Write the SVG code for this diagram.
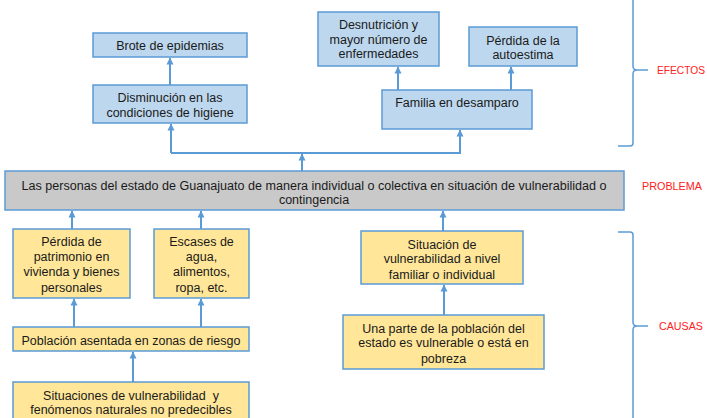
<svg xmlns="http://www.w3.org/2000/svg" width="707" height="418" viewBox="0 0 707 418">
<style>
.b{fill:#BDD7EE;stroke:#5B9BD5;stroke-width:1.5}
.y{fill:#FFE699;stroke:#5B9BD5;stroke-width:1.5}
.g{fill:#C9C9C9;stroke:#5B9BD5;stroke-width:1.5}
text{font-family:"Liberation Sans",Arial,sans-serif;font-size:12.5px;fill:#1a1a1a;text-anchor:middle}
.lab{fill:#FF2020;font-size:10.5px;text-anchor:start}
.c{fill:none;stroke:#5B9BD5;stroke-width:2}
.br{fill:none;stroke:#5B9BD5;stroke-width:1.5}
</style>
<defs>
<marker id="up" markerUnits="userSpaceOnUse" markerWidth="8" markerHeight="8" viewBox="0 0 8 8" refX="4" refY="0.5" orient="0">
<path d="M0.5,7 L4,0 L7.5,7 Z" fill="#5B9BD5"/>
</marker>
</defs>
<g id="connectors">
<path class="c" d="M170,85 V58" marker-end="url(#up)"/>
<path class="c" d="M171,153 H460 V130" marker-end="url(#up)"/>
<path class="c" d="M171,153 V124" marker-end="url(#up)"/>
<path class="c" d="M302,171 V154" marker-end="url(#up)"/>
<path class="c" d="M398,90 V67" marker-end="url(#up)"/>
<path class="c" d="M511,90 V67" marker-end="url(#up)"/>
<path class="c" d="M72,229 V211" marker-end="url(#up)"/>
<path class="c" d="M201,229 V211" marker-end="url(#up)"/>
<path class="c" d="M443,231 V211" marker-end="url(#up)"/>
<path class="c" d="M74,327 V299" marker-end="url(#up)"/>
<path class="c" d="M201,327 V299" marker-end="url(#up)"/>
<path class="c" d="M133,382 V352" marker-end="url(#up)"/>
<path class="c" d="M444,315 V285" marker-end="url(#up)"/>
</g>
<g id="brace-efectos">
<path class="br" d="M633,0 V66 Q633,70 637,70 H648 M637,70 Q633,70 633,74 V143 Q633,146 630,146 H618"/>
<text class="lab" x="657" y="74" textLength="48" lengthAdjust="spacingAndGlyphs">EFECTOS</text>
</g>
<g id="brace-causas">
<path class="br" d="M618,232 H630 Q633,232 633,235 V322 Q633,326 637,326 H648 M637,326 Q633,326 633,330 V418"/>
<text class="lab" x="659" y="330" textLength="44" lengthAdjust="spacingAndGlyphs">CAUSAS</text>
</g>
<g id="n-brote">
<rect class="b" x="93" y="33" width="154" height="24"/>
<text x="170" y="50">Brote de epidemias</text>
</g>
<g id="n-disminucion">
<rect class="b" x="93" y="85" width="154" height="38"/>
<text x="170" y="102">Disminución en las</text>
<text x="170" y="116.5">condiciones de higiene</text>
</g>
<g id="n-desnutricion">
<rect class="b" x="318" y="12" width="121" height="54"/>
<text x="378.5" y="28.5">Desnutrición y</text>
<text x="378.5" y="43.5">mayor número de</text>
<text x="378.5" y="58">enfermedades</text>
</g>
<g id="n-autoestima">
<rect class="b" x="469" y="27" width="108" height="39"/>
<text x="523" y="44.5">Pérdida de la</text>
<text x="523" y="59">autoestima</text>
</g>
<g id="n-familia">
<rect class="b" x="382" y="90" width="150" height="39"/>
<text x="457" y="107">Familia en desamparo</text>
</g>
<g id="n-problema">
<rect class="g" x="5" y="171" width="619" height="39"/>
<text x="314" y="189.5" textLength="585" lengthAdjust="spacingAndGlyphs">Las personas del estado de Guanajuato de manera individual o colectiva en situación de vulnerabilidad o</text>
<text x="314" y="203.5">contingencia</text>
<text class="lab" x="642" y="190" textLength="60" lengthAdjust="spacingAndGlyphs">PROBLEMA</text>
</g>
<g id="n-patrimonio">
<rect class="y" x="13" y="229" width="117" height="69"/>
<text x="71.5" y="246">Pérdida de</text>
<text x="71.5" y="261">patrimonio en</text>
<text x="71.5" y="276">vivienda y bienes</text>
<text x="71.5" y="291.5">personales</text>
</g>
<g id="n-escases">
<rect class="y" x="154" y="229" width="95" height="69"/>
<text x="201.5" y="246">Escases de</text>
<text x="201.5" y="261">agua,</text>
<text x="201.5" y="276">alimentos,</text>
<text x="201.5" y="291.5">ropa, etc.</text>
</g>
<g id="n-poblacion">
<rect class="y" x="13" y="327" width="236" height="24"/>
<text x="131" y="344.5">Población asentada en zonas de riesgo</text>
</g>
<g id="n-situaciones">
<rect class="y" x="13" y="382" width="236" height="40"/>
<text x="131" y="399.5" xml:space="preserve">Situaciones de vulnerabilidad  y</text>
<text x="131" y="414">fenómenos naturales no predecibles</text>
</g>
<g id="n-situacion">
<rect class="y" x="361" y="231" width="162" height="53"/>
<text x="442" y="248.5">Situación de</text>
<text x="442" y="263">vulnerabilidad a nivel</text>
<text x="442" y="278.5">familiar o individual</text>
</g>
<g id="n-unaparte">
<rect class="y" x="343" y="315" width="201" height="54"/>
<text x="443.5" y="333">Una parte de la población del</text>
<text x="443.5" y="347">estado es vulnerable o está en</text>
<text x="443.5" y="363">pobreza</text>
</g>
</svg>
